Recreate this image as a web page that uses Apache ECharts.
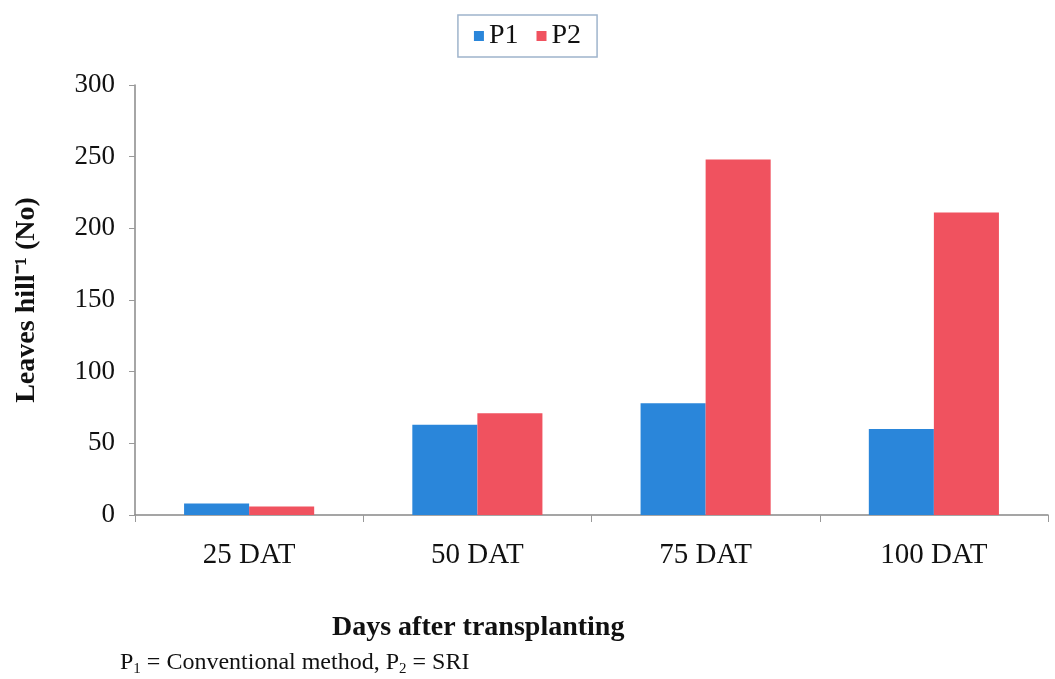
<!DOCTYPE html>
<html>
<head>
<meta charset="utf-8">
<script src="https://cdn.jsdelivr.net/npm/echarts@6/dist/echarts.min.js"></script>
<style>
  html, body { margin: 0; padding: 0; background: #fff; }
  #chart { width: 1055px; height: 679px; }
</style>
</head>
<body>
<div id="chart"></div>
<script>
const categories = ['25 DAT', '50 DAT', '75 DAT', '100 DAT']
const p1Values = [8, 63, 78, 60]
const p2Values = [6, 71, 248, 211]
const yTicks = [0, 50, 100, 150, 200, 250, 300]

const serif = '"Liberation Serif", "Times New Roman", serif'

const chart = echarts.init(document.getElementById('chart'))

const option = {
    backgroundColor: '#fff',
    animation: false,
    grid: { left: 135, right: 7, top: 85, bottom: 164, containLabel: false, outerBoundsMode: 'none' },
    legend: {
        top: 15,
        left: 'center',
        icon: 'rect',
        itemWidth: 10,
        itemHeight: 10,
        itemGap: 18,
        padding: [7, 16, 7, 16],
        borderColor: '#9fb4cc',
        borderWidth: 1.5,
        textStyle: { fontFamily: serif, fontSize: 28, color: '#111' },
        data: ['P1', 'P2']
    },
    xAxis: {
        type: 'category',
        data: categories,
        axisLine: { lineStyle: { color: '#888', width: 1.5 } },
        axisTick: { show: true, alignWithLabel: false, length: 7, lineStyle: { color: '#999' } },
        axisLabel: { fontFamily: serif, fontSize: 29, color: '#111', margin: 26 }
    },
    yAxis: {
        type: 'value',
        min: yTicks[0],
        max: yTicks[yTicks.length - 1],
        interval: 50,
        name: 'Leaves hill\u207B\u00B9 (No)',
        nameLocation: 'middle',
        nameGap: 94,
        nameTextStyle: { fontFamily: serif, fontSize: 28, fontWeight: 'bold', color: '#111' },
        axisLine: { show: true, lineStyle: { color: '#888', width: 1.5 } },
        axisTick: { show: true, length: 6, lineStyle: { color: '#999' } },
        splitLine: { show: false },
        axisLabel: { fontFamily: serif, fontSize: 27, color: '#111', margin: 20 }
    },
    series: [
        {
            name: 'P1',
            type: 'bar',
            data: p1Values,
            barGap: '0%',
            barCategoryGap: '43%',
            itemStyle: { color: '#2a86da' }
        },
        {
            name: 'P2',
            type: 'bar',
            data: p2Values,
            itemStyle: { color: '#f0525f' }
        }
    ],
    graphic: [
        {
            type: 'text',
            left: 332,
            top: 614,
            style: { text: 'Days after transplanting', font: 'bold 28px ' + serif, fill: '#111' }
        },
        {
            type: 'text',
            left: 120,
            top: 651,
            style: {
                text: '{a|P}{s|1}{a| = Conventional method, P}{s|2}{a| = SRI}',
                rich: {
                    a: { font: '24px ' + serif, fill: '#111' },
                    s: { font: '15px ' + serif, fill: '#111', padding: [12, 0, 0, 0] }
                }
            }
        }
    ]
}

chart.setOption(option)
</script>
</body>
</html>
